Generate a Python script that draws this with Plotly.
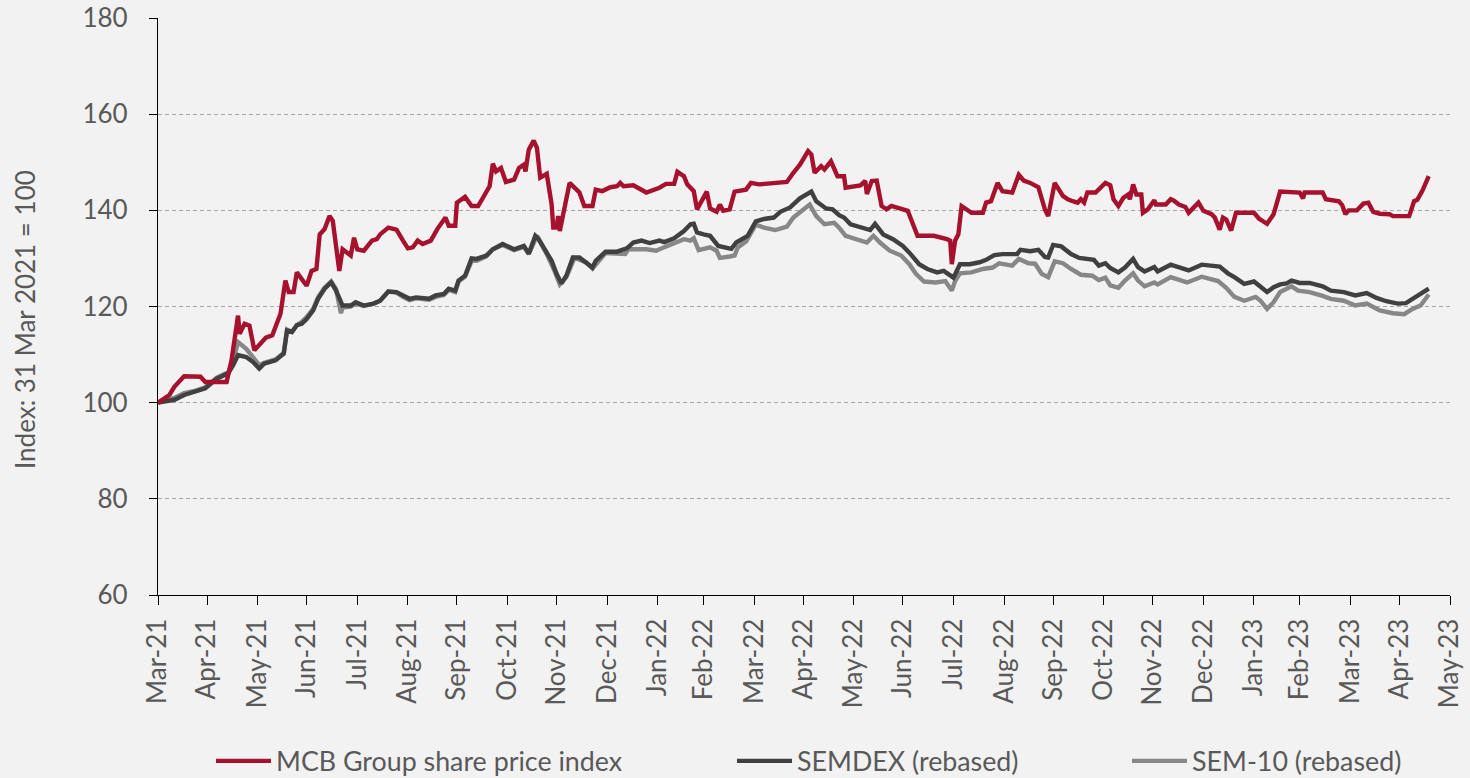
import pandas as pd
import plotly.graph_objects as go

BASE_DATE = "2021-03-31"

# MCB Group share price index: (days after 31 Mar 2021, index value)
mcb_days = [0, 7, 10, 16, 26, 29, 42, 45, 49, 50, 53, 56, 59, 66, 70, 75, 78, 80, 83, 85, 91, 94, 97, 99, 102,
            105, 107, 111, 113, 118, 120, 122, 126, 131, 134, 136, 141, 146, 150, 153, 156, 159, 162, 167, 171,
            176, 178, 182, 183, 188, 192, 196, 203, 205, 207, 210, 213, 218, 221, 224, 225, 227, 230, 232, 234,
            238, 241, 242, 244, 245, 246, 249, 252, 258, 261, 266, 268, 272, 277, 281, 283, 285, 291, 299, 307,
            311, 316, 318, 322, 324, 328, 330, 333, 336, 338, 342, 344, 346, 350, 353, 360, 363, 368, 375, 385,
            389, 393, 398, 400, 402, 406, 408, 412, 416, 420, 421, 430, 433, 434, 437, 440, 443, 446, 449, 456,
            459, 465, 469, 475, 483, 485, 486, 488, 490, 492, 498, 505, 507, 510, 514, 517, 523, 527, 530, 534,
            539, 543, 545, 549, 554, 557, 560, 563, 565, 567, 569, 574, 580, 583, 585, 588, 591, 594, 595, 597,
            599, 602, 603, 606, 610, 611, 617, 620, 622, 625, 629, 631, 633, 637, 640, 645, 647, 650, 652, 654,
            657, 660, 671, 674, 679, 683, 687, 694, 699, 701, 702, 713, 715, 723, 725, 727, 729, 734, 738, 741,
            744, 748, 750, 754, 756, 766, 769, 771, 774, 778]
mcb_vals = [100, 101.6, 103.3, 105.5, 105.4, 104.3, 104.3, 108.8, 118.1, 114.3, 116.4, 116, 110.9, 113.5, 114,
            118.5, 125.4, 123, 123, 127.1, 124.3, 127.4, 127.8, 135, 136.1, 138.8, 137.8, 127.4, 131.9, 130.6,
            134.3, 131.9, 131.6, 133.7, 134, 135, 136.4, 136, 133.7, 132.1, 132.3, 133.7, 133, 133.7, 136.1,
            138.5, 136.8, 136.8, 141.6, 142.8, 140.9, 140.9, 145, 149.7, 148.1, 148.8, 145.9, 146.4, 148.8,
            149.5, 148.1, 152.6, 154.5, 153, 146.8, 147.6, 141.2, 136.4, 136.4, 138.8, 135.7, 141.2, 145.7,
            143.7, 140.9, 140.9, 144.3, 144, 144.8, 145, 145.7, 145, 145.2, 143.7, 144.7, 145.5, 145.5, 148,
            147.1, 145.4, 144, 140.2, 141.9, 143.9, 140.4, 139.7, 141.2, 139.9, 140.2, 143.9, 144.3, 145.7,
            145.4, 145.7, 145.9, 147.8, 149.5, 152.3, 151.6, 147.8, 149.2, 148.5, 150.2, 147.1, 147.1, 144.7,
            145.2, 146.1, 143.4, 146.1, 146.2, 140.9, 140.2, 140.9, 140.2, 139.9, 134.7, 134.7, 134.7, 134,
            133.7, 128.8, 133.7, 135, 140.9, 139.5, 139.5, 141.6, 141.9, 145.7, 144, 143.7, 147.4, 146.2,
            145.7, 144.8, 140.2, 138.8, 145.7, 143, 142.3, 141.9, 141.6, 142.3, 141.6, 143.7, 143.7, 145.7,
            145.2, 142.3, 140.9, 142.6, 143.3, 142.3, 145.4, 143.3, 143.3, 139.5, 140.2, 142.1, 141.2, 141.2,
            142.3, 142, 141.2, 140.7, 139.5, 140.2, 141.6, 139.9, 139.2, 138.5, 136, 138.5, 138.1, 135.8,
            139.5, 139.5, 138.3, 137.2, 139.2, 143.9, 143.9, 143.7, 142.5, 143.7, 143.7, 142.3, 141.9, 141.1,
            139.2, 140, 140, 141.4, 141.6, 139.7, 139.3, 139.2, 139.2, 138.8, 138.8, 141.9, 142.2, 144, 147.1]

# SEMDEX (rebased)
semdex_days = [0, 10, 16, 23, 29, 36, 43, 46, 49, 54, 58, 62, 65, 72, 77, 79, 82, 85, 88, 91, 95, 98, 102, 106,
               109, 113, 118, 121, 126, 132, 136, 141, 146, 150, 154, 158, 166, 170, 175, 178, 182, 184, 188,
               192, 195, 201, 205, 211, 218, 224, 227, 231, 233, 238, 241, 244, 247, 250, 254, 258, 264, 266,
               268, 274, 281, 287, 291, 296, 301, 307, 310, 316, 322, 326, 328, 330, 334, 338, 343, 349, 351,
               354, 358, 361, 366, 371, 377, 381, 387, 393, 400, 403, 409, 413, 417, 420, 424, 430, 436, 439,
               444, 450, 456, 460, 466, 471, 477, 481, 486, 487, 491, 497, 503, 507, 512, 517, 526, 528, 534,
               539, 543, 545, 548, 553, 559, 564, 573, 576, 580, 583, 588, 592, 597, 600, 604, 610, 612, 620,
               631, 639, 650, 655, 659, 665, 671, 675, 679, 683, 687, 691, 694, 699, 705, 713, 718, 726, 733,
               740, 746, 752, 759, 764, 768, 773, 778]
semdex_vals = [100, 100.6, 101.6, 102.3, 103, 105, 106.1, 107.8, 109.9, 109.5, 108.5, 107.1, 108.1, 108.8, 110.2,
               115, 114.7, 116.1, 116.4, 117.4, 119.2, 121.6, 123.7, 125, 123.3, 120.2, 120.2, 120.9, 120.2,
               120.6, 121.2, 123.1, 123, 122.3, 121.6, 121.9, 121.6, 122.3, 122.6, 123.7, 123.3, 125.4, 126.4,
               130, 129.9, 130.6, 131.9, 133, 131.9, 132.6, 131, 134.7, 134, 131.2, 129.5, 126.8, 124.8, 126.4,
               130.2, 130.2, 128.5, 128.1, 129.5, 131.4, 131.4, 132.1, 133.3, 133.7, 133.2, 133.7, 133.4, 134.2,
               135.7, 137.1, 137.2, 135.4, 135, 134.7, 132.6, 132.3, 132, 133.3, 134, 134.7, 137.7, 138.2,
               138.5, 139.7, 140.6, 142.5, 143.9, 141.9, 140.4, 140.2, 139, 138.5, 137.1, 136.6, 135.9, 137.2,
               135, 134, 132.6, 131.2, 128.8, 127.8, 127.1, 127.4, 126.4, 126, 128.8, 128.8, 129.2, 129.7, 130.7,
               130.9, 130.9, 131.8, 131.5, 131.8, 130.3, 130.2, 132.8, 132.5, 130.9, 130.1, 129.7, 128.5, 129,
               128, 127.1, 128.1, 129.9, 128.2, 127.3, 128.2, 127.3, 128.7, 127.5, 128.7, 128.3, 126.9, 126.1,
               124.7, 125.2, 124, 123, 124, 124.6, 124.8, 125.4, 124.9, 124.9, 124.2, 123.3, 123, 122.3, 122.8,
               121.8, 121.1, 120.6, 120.7, 121.5, 122.6, 123.7]

# SEM-10 (rebased)
sem10_days = [0, 10, 16, 23, 29, 36, 43, 46, 49, 54, 58, 62, 65, 72, 77, 79, 82, 85, 88, 91, 95, 98, 102, 106,
              109, 112, 113, 118, 121, 126, 132, 136, 141, 146, 150, 154, 158, 166, 170, 175, 178, 182, 184,
              188, 192, 195, 201, 205, 211, 218, 224, 227, 232, 238, 243, 246, 250, 255, 262, 266, 270, 274,
              286, 288, 299, 305, 307, 315, 322, 326, 328, 331, 338, 342, 344, 350, 353, 355, 360, 366, 371,
              378, 382, 385, 389, 393, 399, 403, 408, 414, 417, 421, 428, 434, 438, 442, 448, 455, 460, 464,
              469, 476, 482, 486, 488, 491, 498, 505, 511, 515, 523, 527, 533, 537, 541, 545, 549, 554, 559,
              565, 572, 576, 580, 583, 588, 592, 597, 600, 604, 610, 612, 620, 630, 639, 649, 654, 659, 665,
              672, 675, 679, 683, 687, 694, 698, 705, 713, 718, 726, 733, 740, 748, 756, 763, 768, 773, 778]
sem10_vals = [100, 101, 102, 102.5, 103.2, 105.2, 106.3, 108.8, 112.6, 111.2, 109.5, 107.8, 108.3, 109, 110.4,
              115.2, 114.7, 116.1, 116.8, 117.8, 119.5, 121.9, 123.9, 125.2, 123.6, 118.6, 119.8, 120, 120.6,
              120.1, 120.6, 121.2, 123.1, 122.9, 122, 121.3, 121.7, 121.4, 122, 122.4, 123.5, 123, 125.2, 126.2,
              129.5, 129.5, 130.4, 131.9, 132.8, 131.7, 132.4, 130.9, 134.7, 130.9, 127.2, 124.6, 126.1, 130.1,
              129.2, 127.9, 129.5, 131.1, 130.9, 131.9, 131.9, 131.6, 131.9, 133, 134, 133.7, 134.2, 131.7,
              132.3, 131.6, 130.1, 130.4, 130.6, 132.3, 133.5, 137, 136.4, 135.9, 136.4, 136.6, 138.5, 139.6,
              141.2, 138.8, 137.1, 137.4, 136.4, 134.7, 134, 133.3, 134.7, 133.3, 131.6, 130.6, 128.8, 126.8,
              125.2, 125, 125.3, 123.3, 125.3, 126.9, 127.1, 127.8, 128.1, 129, 128.5, 129.9, 129, 128.9, 126.8,
              126.1, 129.4, 129, 127.8, 126.6, 126.4, 125.5, 126, 124.4, 123.9, 125.4, 126.9, 125.4, 124.2, 125,
              124.6, 126.1, 125, 126.2, 125.3, 123.9, 122, 121.2, 122, 121.2, 119.5, 120.9, 123, 124.2, 123.3,
              123, 122.2, 121.6, 121.2, 120.2, 120.6, 119.2, 118.6, 118.4, 119.5, 120.2, 122.5]

tick_dates = ["2021-03-31", "2021-04-30", "2021-05-31", "2021-06-30", "2021-07-31", "2021-08-31",
              "2021-09-30", "2021-10-31", "2021-11-30", "2021-12-31", "2022-01-31", "2022-02-28",
              "2022-03-31", "2022-04-30", "2022-05-31", "2022-06-30", "2022-07-31", "2022-08-31",
              "2022-09-30", "2022-10-31", "2022-11-30", "2022-12-31", "2023-01-31", "2023-02-28",
              "2023-03-31", "2023-04-30", "2023-05-31"]
tick_labels = ["Mar-21", "Apr-21", "May-21", "Jun-21", "Jul-21", "Aug-21", "Sep-21", "Oct-21", "Nov-21",
               "Dec-21", "Jan-22", "Feb-22", "Mar-22", "Apr-22", "May-22", "Jun-22", "Jul-22", "Aug-22",
               "Sep-22", "Oct-22", "Nov-22", "Dec-22", "Jan-23", "Feb-23", "Mar-23", "Apr-23", "May-23"]

series_names = ["MCB Group share price index", "SEMDEX (rebased)", "SEM-10 (rebased)"]
series_colors = ["#A6112E", "#404040", "#878787"]


def to_dates(days):
    return pd.Timestamp(BASE_DATE) + pd.to_timedelta(days, unit="D")


W, H = 1470, 778
ML, MR, MT, MB = 158, 20, 18, 183
PW = W - ML - MR
PH = H - MT - MB
FONT = "Lato, 'Open Sans', sans-serif"
TXT = "#595959"


def px_x(p):
    return (p - ML) / PW


def px_y(p):
    return (H - MB - p) / PH


fig = go.Figure()
# draw order: SEM-10 first, SEMDEX, MCB on top
data_sets = [(sem10_days, sem10_vals, 2, "legend3"),
             (semdex_days, semdex_vals, 1, "legend2"),
             (mcb_days, mcb_vals, 0, "legend")]
for days, vals, idx, lg in data_sets:
    fig.add_trace(go.Scatter(
        x=to_dates(days), y=vals, mode="lines", name=series_names[idx],
        line=dict(color=series_colors[idx], width=4.4, shape="linear"),
        legend=lg, hoverinfo="x+y+name"))

leg_common = dict(orientation="h", yanchor="middle", xanchor="left", bgcolor="rgba(0,0,0,0)",
                  borderwidth=0, font=dict(family=FONT, size=26.8, color=TXT), itemwidth=55,
                  tracegroupgap=0)
leg_text_start = [279, 800, 1195]
legend_y = px_y(761)

fig.update_layout(
    width=W, height=H,
    margin=dict(l=ML, r=MR, t=MT, b=MB, autoexpand=False),
    paper_bgcolor="#F2F2F2", plot_bgcolor="#F2F2F2",
    font=dict(family=FONT, size=26, color=TXT),
    showlegend=True,
    legend=dict(x=px_x(leg_text_start[0] - 68), y=legend_y, **leg_common),
    legend2=dict(x=px_x(leg_text_start[1] - 68), y=legend_y, **leg_common),
    legend3=dict(x=px_x(leg_text_start[2] - 68), y=legend_y, **leg_common),
    xaxis=dict(
        type="date", range=[BASE_DATE, "2023-05-31"],
        tickmode="array", tickvals=tick_dates, ticktext=tick_labels, tickangle=-90,
        showgrid=False, zeroline=False, showline=True, linecolor="#000000", linewidth=1.3,
        ticks="outside", ticklen=9, tickwidth=1.3, tickcolor="#000000",
        tickfont=dict(family=FONT, size=26, color=TXT), ticklabelstandoff=3,
    ),
    yaxis=dict(
        range=[60, 180], tickmode="array", tickvals=[60, 80, 100, 120, 140, 160, 180],
        showgrid=True, gridcolor="#A6A6A6", gridwidth=1, griddash="4px,3px",
        zeroline=False, showline=True, linecolor="#000000", linewidth=1.3,
        ticks="outside", ticklen=8, tickwidth=1.3, tickcolor="#000000",
        tickfont=dict(family=FONT, size=26, color=TXT), ticklabelstandoff=16,
    ),
    annotations=[dict(
        text="Index: 31 Mar 2021 = 100", textangle=-90, showarrow=False,
        xref="paper", yref="paper", x=px_x(25), y=px_y(320), xanchor="center", yanchor="middle",
        font=dict(family=FONT, size=26, color=TXT))],
)

fig.write_html("out.html", config={"displayModeBar": False},
               post_script="document.body.style.margin='0';document.body.style.overflow='hidden';")
